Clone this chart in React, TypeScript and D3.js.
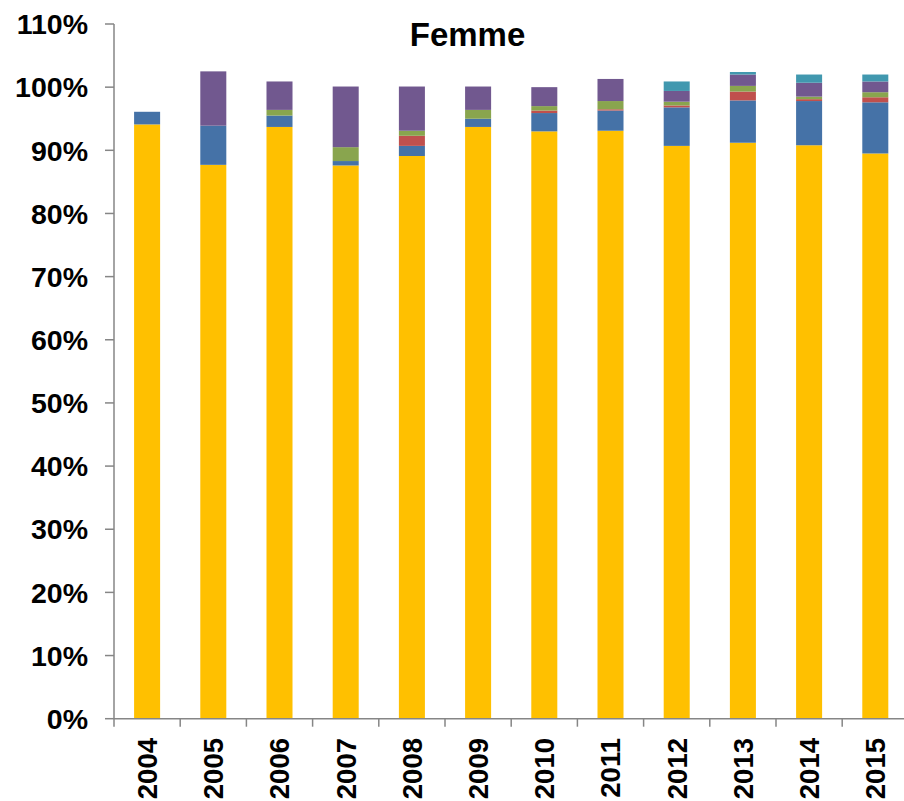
import React from "react";
import * as d3 from "d3";

const years = ["2004","2005","2006","2007","2008","2009","2010","2011","2012","2013","2014","2015"];
const serieA = [94.1, 87.7, 93.7, 87.6, 89.1, 93.7, 93.0, 93.1, 90.7, 91.2, 90.8, 89.5];
const serieB = [2.0, 6.2, 1.8, 0.7, 1.6, 1.3, 2.9, 3.2, 6.1, 6.7, 7.0, 8.1];
const serieC = [0, 0, 0, 0, 1.6, 0, 0.4, 0.2, 0.3, 1.4, 0.3, 0.8];
const serieD = [0, 0, 0.9, 2.2, 0.8, 1.4, 0.7, 1.3, 0.6, 0.9, 0.4, 0.8];
const serieE = [0, 8.6, 4.5, 9.6, 7.0, 3.7, 3.0, 3.5, 1.7, 1.8, 2.2, 1.7];
const serieF = [0, 0, 0, 0, 0, 0, 0, 0, 1.5, 0.4, 1.3, 1.1];
const yTicks = [0, 10, 20, 30, 40, 50, 60, 70, 80, 90, 100, 110];
const title = "Femme";

const seriesList = [serieA, serieB, serieC, serieD, serieE, serieF];
const colors = ["#FFC000", "#4572A7", "#C0504D", "#89A54E", "#71588F", "#4198AF"];

export default function App() {
  const W = 904, H = 801;
  const x0 = 114, x1 = 114 + 12 * 66.2;
  const yTop = 24, yBot = 718.7;
  const x = d3.scaleBand<string>().domain(years).range([x0, x1]).paddingInner(0.607).paddingOuter(0.3035);
  const y = d3.scaleLinear().domain([0, 110]).range([yBot, yTop]);
  const font = "'Liberation Sans', Arial, sans-serif";
  const axisColor = "#868686";
  const step = x.step();

  const rects: React.ReactNode[] = [];
  years.forEach((yr, i) => {
    let cum = 0;
    seriesList.forEach((s, k) => {
      const v = s[i];
      if (v > 0) {
        const top = y(cum + v);
        const bottom = y(cum);
        rects.push(
          <rect key={yr + "-" + k} x={x(yr)} y={top} width={x.bandwidth()} height={bottom - top} fill={colors[k]} />
        );
      }
      cum += v;
    });
  });

  return (
    <svg width={W} height={H} style={{ position: "absolute", left: 0, top: 0 }} fontFamily={font}>
      <rect x={0} y={0} width={W} height={H} fill="#fff" />
      {rects}
      <line x1={x0} x2={x0} y1={yTop} y2={yBot} stroke={axisColor} strokeWidth={1.5} />
      <line x1={x0} x2={W} y1={yBot} y2={yBot} stroke={axisColor} strokeWidth={1.5} />
      {yTicks.map((t) => (
        <g key={t}>
          <line x1={x0 - 9} x2={x0} y1={y(t)} y2={y(t)} stroke={axisColor} strokeWidth={1.5} />
          <text x={88} y={y(t)} dy="0.36em" textAnchor="end" fontSize={28.5} fontWeight="bold" fill="#000">
            {t + "%"}
          </text>
        </g>
      ))}
      {d3.range(years.length + 1).map((i) => (
        <line key={"xt" + i} x1={x0 + i * step} x2={x0 + i * step} y1={yBot} y2={yBot + 8} stroke={axisColor} strokeWidth={1.5} />
      ))}
      {years.map((yr) => {
        const cx = (x(yr) as number) + x.bandwidth() / 2;
        return (
          <text key={"yl" + yr} transform={`translate(${cx},738) rotate(-90)`} dy="0.36em" textAnchor="end" fontSize={27.5} fontWeight="bold" fill="#000">
            {yr}
          </text>
        );
      })}
      <text x={467.5} y={46} textAnchor="middle" fontSize={33} fontWeight="bold" fill="#000">
        {title}
      </text>
    </svg>
  );
}
